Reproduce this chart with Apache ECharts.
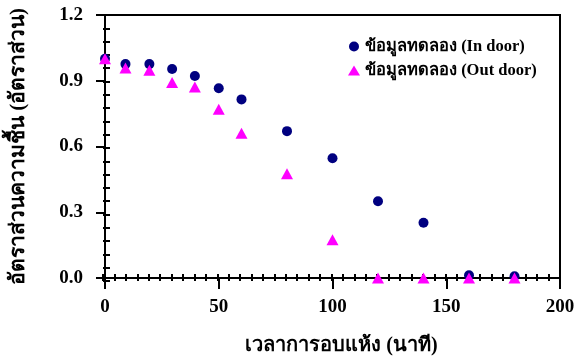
<!DOCTYPE html>
<html><head><meta charset="utf-8">
<script src="https://cdn.jsdelivr.net/npm/echarts@6/dist/echarts.min.js"></script>
<style>html,body{margin:0;padding:0;background:#fff}#c{width:581px;height:361px}</style>
</head><body><div id="c"></div>
<script>
const timeMin = [0, 9, 19.5, 29.5, 39.5, 50, 60, 80, 100, 120, 140, 160, 180];
const indoor  = [1.00, 0.976, 0.976, 0.954, 0.922, 0.866, 0.815, 0.670, 0.546, 0.350, 0.252, 0.012, 0.008];
const outdoor = [1.00, 0.958, 0.948, 0.892, 0.872, 0.770, 0.660, 0.476, 0.175, 0.0, 0.0, 0.0, 0.0];
const seriesNames = ['ข้อมูลทดลอง (In door)', 'ข้อมูลทดลอง (Out door)'];
const xTitle = 'เวลาการอบแห้ง (นาที)';
const yTitle = 'อัตราส่วนความชื้น (อัตราส่วน)';

const font = '"Liberation Serif", "Times New Roman", serif';
const chart = echarts.init(document.getElementById('c'));
const gridRect = {left: 103, right: 21, top: 15, bottom: 80};
const lineSty = {color: '#000', width: 2};
chart.setOption({
  animation: false,
  backgroundColor: '#fff',
  grid: [
    Object.assign({show: true, borderColor: '#000', borderWidth: 2, backgroundColor: 'transparent'}, gridRect),
    Object.assign({}, gridRect)
  ],
  legend: {
    left: 343, top: 33, orient: 'vertical', itemGap: 7, itemWidth: 12, itemHeight: 10,
    textStyle: {fontFamily: font, fontWeight: 'bold', fontSize: 16.5, color: '#000'},
    data: [
      {name: seriesNames[0], icon: 'circle', itemStyle: {color: '#000080', opacity: 1}},
      {name: seriesNames[1], icon: 'triangle', itemStyle: {color: '#ff00ff', opacity: 1}}
    ]
  },
  xAxis: [
    {gridIndex: 0, type: 'value', min: 0, max: 200, interval: 50, position: 'bottom',
     axisLine: {lineStyle: lineSty}, axisTick: {show: true, length: 11, lineStyle: lineSty},
     splitLine: {show: false},
     axisLabel: {margin: 20, fontFamily: font, fontWeight: 'bold', fontSize: 19, color: '#000'},
     name: xTitle, nameLocation: 'middle', nameGap: 58,
     nameTextStyle: {fontFamily: font, fontWeight: 'bold', fontSize: 20, color: '#000', padding: [0, 0, 0, 18]}},
    {gridIndex: 1, type: 'value', min: 0, max: 200, interval: 50, position: 'bottom',
     axisLine: {show: false}, axisLabel: {show: false}, splitLine: {show: false},
     axisTick: {show: true, inside: true, length: 7, lineStyle: lineSty},
     minorTick: {show: true, splitNumber: 10, length: 7, lineStyle: lineSty}}
  ],
  yAxis: [
    {gridIndex: 0, type: 'value', min: 0, max: 1.2, interval: 0.3, position: 'left',
     axisLine: {show: true, lineStyle: lineSty}, axisTick: {show: true, length: 9, lineStyle: lineSty},
     splitLine: {show: false},
     axisLabel: {margin: 22, fontFamily: font, fontWeight: 'bold', fontSize: 19, color: '#000',
                 formatter: v => v.toFixed(1)},
     name: yTitle, nameLocation: 'middle', nameGap: 76, nameRotate: 90,
     nameTextStyle: {fontFamily: font, fontWeight: 'bold', fontSize: 21, color: '#000'}},
    {gridIndex: 1, type: 'value', min: 0, max: 1.2, interval: 0.3, position: 'left',
     axisLine: {show: false}, axisLabel: {show: false}, splitLine: {show: false},
     axisTick: {show: true, inside: true, length: 7, lineStyle: lineSty},
     minorTick: {show: true, splitNumber: 5, length: 7, lineStyle: lineSty}}
  ],
  series: [
    {name: seriesNames[0], type: 'scatter', xAxisIndex: 0, yAxisIndex: 0, symbol: 'circle', symbolSize: 10,
     itemStyle: {color: '#000080', opacity: 1}, data: timeMin.map((t, i) => [t, indoor[i]]), z: 3},
    {name: seriesNames[1], type: 'scatter', xAxisIndex: 0, yAxisIndex: 0, symbol: 'triangle', symbolSize: [12, 11],
     itemStyle: {color: '#ff00ff', opacity: 1}, data: timeMin.map((t, i) => [t, outdoor[i]]), z: 4}
  ]
});
</script></body></html>
